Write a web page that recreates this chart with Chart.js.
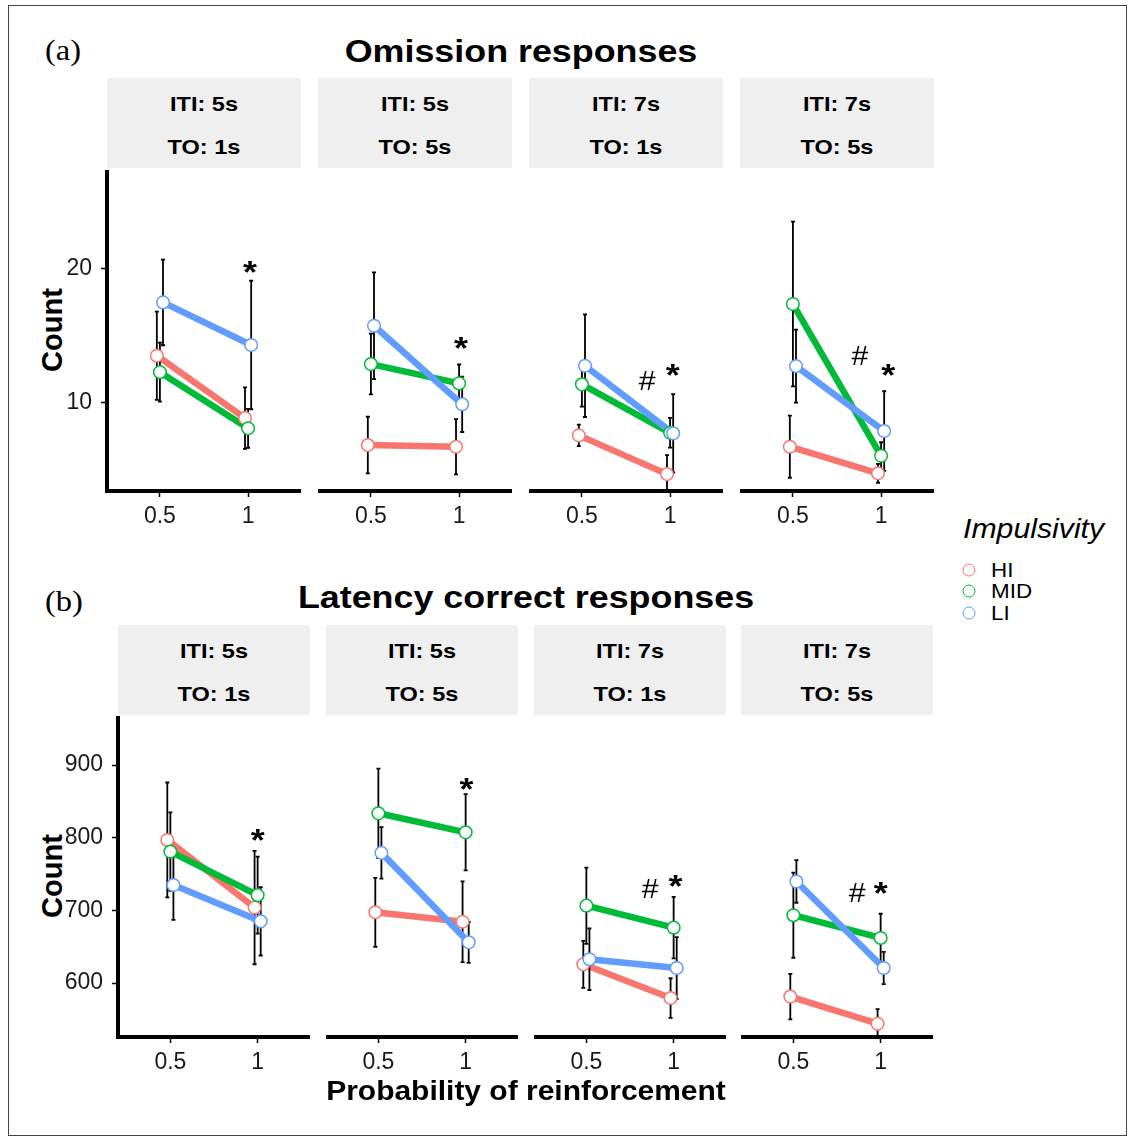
<!DOCTYPE html>
<html>
<head>
<meta charset="utf-8">
<script src="https://cdn.jsdelivr.net/npm/chart.js@4.4.1/dist/chart.umd.min.js"></script>
<style>
  body { margin: 0; background: #fff; }
  #fig { position: relative; width: 1128px; height: 1137px; overflow: hidden; background: #fff;
         font-family: "Liberation Sans", Arial, Helvetica, sans-serif; color: #000; }
  .frame { position: absolute; left: 8px; top: 5px; width: 1117px; height: 1129px; border: 1px solid #444; }
  .strip { position: absolute; background: #efefef; }
  .txt { position: absolute; white-space: nowrap; line-height: 1; transform: translate(-50%, -50%) scaleX(1.12); }
  .ltxt { position: absolute; white-space: nowrap; line-height: 1; transform-origin: left center; transform: translateY(-50%) scaleX(1.12); }
  .panel { position: absolute; }
  .key { position: absolute; width: 11px; height: 11px; border-radius: 50%; border: 1.5px solid; background: #fff;
         transform: translate(-50%, -50%); }
</style>
</head>
<body>
<div id="fig">
  <div class="frame"></div>
</div>
<script>
// facets
const facetITI = ['ITI: 5s', 'ITI: 5s', 'ITI: 7s', 'ITI: 7s'];
const facetTO = ['TO: 1s', 'TO: 5s', 'TO: 1s', 'TO: 5s'];
const groups = ['HI', 'MID', 'LI'];
const probLabels = ['0.5', '1'];
const probPositions = [1, 2];

// (a) omission responses, per facet: [p = 0.5, p = 1]
const omisHI = [[13.5, 8.84], [6.79, 6.67], [7.51, 4.64], [6.67, 4.70]];
const omisMID = [[12.27, 8.07], [12.79, 11.36], [11.29, 7.70], [17.24, 6.0]];
const omisLI = [[17.48, 14.3], [15.63, 9.81], [12.67, 7.66], [12.64, 7.83]];
const omisHIErr = [[3.3, 2.3], [2.1, 2.05], [0.8, 1.4], [2.3, 0.7]];
const omisMIDErr = [[2.2, 1.45], [2.25, 1.4], [1.65, 1.1], [6.1, 1.0]];
const omisLIErr = [[3.2, 4.8], [3.95, 2.05], [3.8, 2.9], [2.7, 2.95]];
const omisTicks = [10, 20];
const omisRange = [3.39, 27.24];
// significance marks [x, y] in axis units
const omisStar = [[2.02, 20.27], [2.02, 14.44], [2.03, 12.5], [2.08, 12.5]];
const omisHash = [null, null, [1.74, 11.6], [1.76, 13.46]];

// (b) latency correct responses
const latHI = [[797, 704], [696, 683], [625, 579], [581, 544]];
const latMID = [[781, 721], [831, 805], [705, 675], [692, 661]];
const latLI = [[735, 685], [777, 655], [632, 620], [738, 620]];
const latHIErr = [[79, 78], [47, 55], [32, 27], [31, 20]];
const latMIDErr = [[54, 53], [61, 52], [52, 42], [58, 33]];
const latLIErr = [[48, 47], [35, 28], [42, 42], [29, 22]];
const latTicks = [600, 700, 800, 900];
const latRange = [525.9, 965];
const latStar = [[2.0, 805.8], [2.01, 872.6], [2.02, 740], [2.0, 730.8]];
const latHash = [null, null, [1.73, 729], [1.73, 722.6]];

const FONT = '"Liberation Sans", Arial, Helvetica, sans-serif';
const colors = ['#F8766D', '#00BA38', '#619CFF'];
const dodge = [-0.035, 0, 0.035];
const fig = document.getElementById('fig');

function addText(cls, text, x, y, css) {
  const d = document.createElement('div');
  d.className = cls;
  d.textContent = text;
  d.style.left = x + 'px';
  d.style.top = y + 'px';
  Object.assign(d.style, css || {});
  fig.appendChild(d);
  return d;
}

// error bars right after each line, under the points
const errorBars = {
  id: 'errorBars',
  afterDatasetDraw(chart, args) {
    const ds = chart.data.datasets[args.index];
    if (!ds.errors) return;
    const ctx = chart.ctx, ys = chart.scales.y, a = chart.chartArea;
    ctx.save();
    ctx.beginPath();
    ctx.rect(a.left, a.top, a.right - a.left, a.bottom - a.top);
    ctx.clip();
    ctx.strokeStyle = '#000';
    ctx.lineWidth = 1.8;
    args.meta.data.forEach((pt, i) => {
      const v = ds.data[i].y, e = ds.errors[i];
      const y0 = ys.getPixelForValue(v - e), y1 = ys.getPixelForValue(v + e);
      ctx.beginPath();
      ctx.moveTo(pt.x, y0); ctx.lineTo(pt.x, y1);
      ctx.moveTo(pt.x - 2, y0); ctx.lineTo(pt.x + 2, y0);
      ctx.moveTo(pt.x - 2, y1); ctx.lineTo(pt.x + 2, y1);
      ctx.stroke();
    });
    ctx.restore();
  }
};

const marks = {
  id: 'marks',
  afterDatasetsDraw(chart, args, opts) {
    const ctx = chart.ctx, xs = chart.scales.x, ys = chart.scales.y;
    (opts.items || []).forEach(m => {
      ctx.save();
      ctx.font = m.font;
      ctx.fillStyle = '#000';
      ctx.textAlign = 'center';
      ctx.textBaseline = 'alphabetic';
      const px = xs.getPixelForValue(m.x), py = ys.getPixelForValue(m.y) + m.lift;
      ctx.translate(px, py);
      ctx.scale(1.12, 1);
      ctx.fillText(m.text, 0, 0);
      ctx.restore();
    });
  }
};

const rows = [
  { title: 'Omission responses', tag: '(a)', tagY: 50, titleY: 51,
    top: 169, bottom: 491, lefts: [107, 318, 529, 740], width: 194, stripTop: 78,
    means: [omisHI, omisMID, omisLI], errs: [omisHIErr, omisMIDErr, omisLIErr],
    ticks: omisTicks, range: omisRange, stars: omisStar, hashes: omisHash, countY: 330 },
  { title: 'Latency correct responses', tag: '(b)', tagY: 601, titleY: 597,
    top: 715, bottom: 1037, lefts: [118, 326, 534, 741], width: 192, stripTop: 625,
    means: [latHI, latMID, latLI], errs: [latHIErr, latMIDErr, latLIErr],
    ticks: latTicks, range: latRange, stars: latStar, hashes: latHash, countY: 876 }
];

const PAD_TOP = 20, X_H = 45, Y_W = 80;

rows.forEach(row => {
  const plotH = row.bottom - row.top;
  const span0 = row.lefts[0], span1 = row.lefts[3] + row.width;
  addText('txt', row.title, (span0 + span1) / 2, row.titleY, { fontSize: '32px', fontWeight: 'bold' });
  addText('ltxt', row.tag, 45, row.tagY, { fontSize: '29px', fontFamily: '"Liberation Serif", "Times New Roman", serif' });
  addText('txt', 'Count', 51.5, row.countY, { fontSize: '29px', fontWeight: 'bold', transform: 'translate(-50%, -50%) rotate(-90deg)' });

  row.lefts.forEach((left, f) => {
    // strip
    const s = document.createElement('div');
    s.className = 'strip';
    Object.assign(s.style, { left: left + 'px', top: row.stripTop + 'px', width: row.width + 'px', height: '90px' });
    fig.appendChild(s);
    addText('txt', facetITI[f], left + row.width / 2, row.stripTop + 24.5, { fontSize: '21px', fontWeight: 'bold' });
    addText('txt', facetTO[f], left + row.width / 2, row.stripTop + 67.5, { fontSize: '21px', fontWeight: 'bold' });

    const first = f === 0;
    const yw = first ? Y_W : 0;
    const wrap = document.createElement('div');
    wrap.className = 'panel';
    const cw = row.width + yw, ch = PAD_TOP + plotH + X_H;
    Object.assign(wrap.style, { left: (left - yw) + 'px', top: (row.top - PAD_TOP) + 'px', width: cw + 'px', height: ch + 'px' });
    const canvas = document.createElement('canvas');
    canvas.width = cw; canvas.height = ch;
    canvas.style.width = cw + 'px'; canvas.style.height = ch + 'px';
    wrap.appendChild(canvas);
    fig.appendChild(wrap);

    const datasets = [];
    groups.forEach((g, gi) => {
      const pts = probPositions.map((p, k) => ({ x: p + dodge[gi], y: row.means[gi][f][k] }));
      datasets.push({
        label: g, data: pts, errors: row.errs[gi][f],
        borderColor: colors[gi], borderWidth: 6.5, pointRadius: 0, tension: 0,
        borderCapStyle: 'butt', order: 6 - gi
      });
    });
    groups.forEach((g, gi) => {
      const pts = probPositions.map((p, k) => ({ x: p + dodge[gi], y: row.means[gi][f][k] }));
      datasets.push({
        label: g + ' points', data: pts, showLine: false,
        pointRadius: 6.3, pointBorderWidth: 1.5, pointBackgroundColor: '#fff',
        pointBorderColor: colors[gi], borderColor: colors[gi], order: 3 - gi
      });
    });

    const items = [];
    if (row.hashes[f]) items.push({ text: '#', x: row.hashes[f][0], y: row.hashes[f][1], font: '27px ' + FONT, lift: 9.5 });
    if (row.stars[f]) items.push({ text: '*', x: row.stars[f][0], y: row.stars[f][1], font: 'bold 32px ' + FONT, lift: 17.5 });

    new Chart(canvas, {
      type: 'line',
      data: { datasets },
      plugins: [errorBars, marks],
      options: {
        responsive: false, animation: false, devicePixelRatio: 1, events: [],
        layout: { autoPadding: false, padding: { top: PAD_TOP, left: 0, right: 0, bottom: 0 } },
        plugins: { legend: { display: false }, tooltip: { enabled: false }, marks: { items } },
        scales: {
          x: {
            type: 'linear', min: 0.4, max: 2.6,
            afterBuildTicks: sc => { sc.ticks = probPositions.map(v => ({ value: v })); },
            afterFit: sc => { sc.height = X_H; },
            ticks: {
              callback: v => probLabels[probPositions.indexOf(v)],
              font: { family: FONT, size: 23 }, color: '#1a1a1a', padding: 6,
              maxRotation: 0, autoSkip: false
            },
            grid: { display: true, drawOnChartArea: false, tickLength: 6, tickWidth: 1.5, tickColor: '#000' },
            border: { display: true, color: '#000', width: 4 }
          },
          y: {
            display: first, min: row.range[0], max: row.range[1],
            afterBuildTicks: sc => { sc.ticks = row.ticks.map(v => ({ value: v })); },
            afterFit: sc => { if (first) sc.width = Y_W; },
            ticks: { callback: v => String(v), font: { family: FONT, size: 23 }, color: '#1a1a1a', padding: 9 },
            grid: { display: true, drawOnChartArea: false, tickLength: 6, tickWidth: 1.5, tickColor: '#000' },
            border: { display: true, color: '#000', width: 4 }
          }
        }
      }
    });
  });
});

// x axis title
addText('txt', 'Probability of reinforcement', (118 + 933) / 2, 1091, { fontSize: '27px', fontWeight: 'bold', transform: 'translate(-50%, -50%) scaleX(1.11)' });

// legend
addText('ltxt', 'Impulsivity', 963, 529, { fontSize: '27px', fontStyle: 'italic' });
const keyY = [569.5, 590.5, 613];
groups.forEach((g, gi) => {
  const k = document.createElement('div');
  k.className = 'key';
  Object.assign(k.style, { left: '969px', top: keyY[gi] + 'px', borderColor: colors[gi] });
  fig.appendChild(k);
  addText('ltxt', g, 991, keyY[gi], { fontSize: '20px' });
});
</script>
</body>
</html>
